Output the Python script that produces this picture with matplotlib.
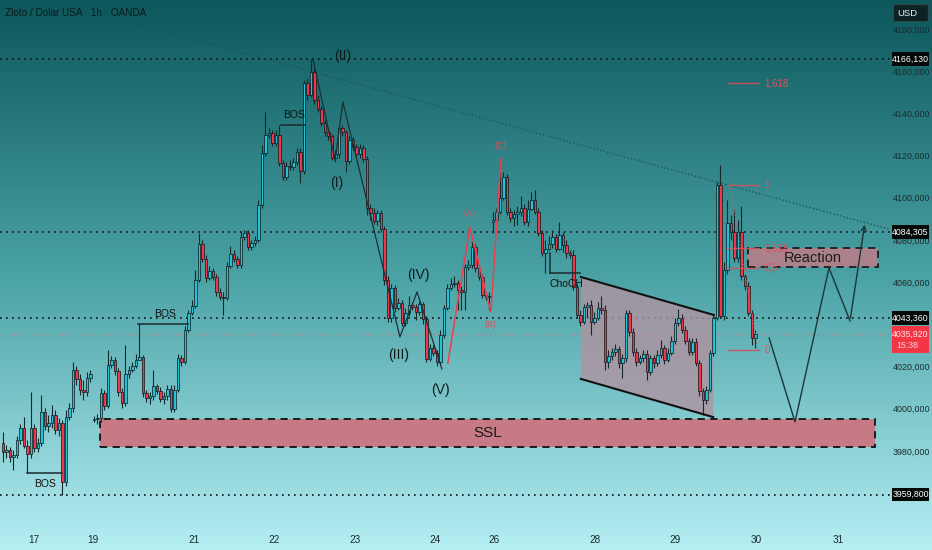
import numpy as np
import matplotlib
matplotlib.use("Agg")
import matplotlib.pyplot as plt
from matplotlib.colors import LinearSegmentedColormap
from matplotlib.patches import Rectangle, Polygon, FancyBboxPatch

plt.rcParams['font.family'] = ['Liberation Sans', 'DejaVu Sans']

# ---- candle data (1h, XAU/USD) ----
closes = [
    3980.0, 3980.9, 3977.6, 3978.5, 3985.6, 3991.3, 3982.8, 3979.0, 3991.3, 3981.8,
    3984.2, 3998.9, 3992.3, 3993.7, 3997.5, 3990.4, 3993.7, 3965.7, 3996.5, 4000.8,
    4018.8, 4014.6, 4009.3, 4008.4, 4015.0, 4016.9, 3995.6, 3996.1, 4007.9, 4001.8,
    4021.2, 4023.6, 4018.3, 4008.4, 4003.2, 4016.9, 4018.8, 4020.7, 4023.6, 4025.0,
    4007.9, 4005.5, 4006.5, 4011.2, 4008.9, 4005.1, 4006.5, 4009.8, 4000.3, 4009.3,
    4024.5, 4022.6, 4037.8, 4045.8, 4049.2, 4061.5, 4078.5, 4071.4, 4062.4, 4065.7,
    4062.9, 4055.8, 4053.4, 4052.9, 4068.1, 4073.8, 4071.4, 4068.6, 4081.9, 4083.8,
    4077.1, 4079.0, 4080.4, 4097.0, 4121.7, 4130.0, 4131.0, 4126.4, 4130.0, 4117.0,
    4110.3, 4115.5, 4115.0, 4117.4, 4122.0, 4113.0, 4155.0, 4149.0, 4160.0, 4147.0,
    4142.5, 4136.0, 4131.6, 4129.7, 4119.3, 4121.2, 4133.5, 4131.6, 4117.9, 4127.8,
    4124.5, 4121.2, 4124.0, 4118.8, 4095.6, 4093.2,
    4089.4, 4093.2, 4085.7, 4061.5, 4043.5, 4057.7, 4048.2, 4050.6, 4041.1, 4045.8, 4049.6,
    4048.7, 4046.3, 4050.1, 4043.0, 4024.0, 4029.2, 4026.9, 4022.6, 4035.4, 4048.2, 4057.7, 4059.6,
    4060.0, 4056.7, 4055.8, 4067.6, 4068.6, 4077.1, 4067.2, 4062.9, 4054.4, 4053.4, 4053.9,
    4089.9, 4093.7, 4100.3, 4110.3, 4093.7, 4090.9, 4092.8, 4093.7, 4095.6, 4089.0, 4095.1,
    4099.4, 4093.7, 4083.8, 4074.3, 4076.2, 4078.5, 4081.9, 4076.2,
    4082.8, 4078.0, 4074.3, 4073.3,
    4058.2, 4044.9, 4041.6, 4048.7, 4049.6, 4041.6, 4043.5, 4048.2, 4047.3,
    4022.6, 4025.5, 4027.4, 4028.8, 4022.1, 4024.5, 4045.8, 4036.8, 4027.4, 4022.6, 4024.5, 4026.4,
    4017.9, 4024.5, 4022.1, 4025.9, 4029.2, 4023.6, 4026.9, 4032.6, 4041.1, 4043.5,
    4037.8, 4032.6, 4027.4, 4032.1, 4022.1, 4008.9, 4004.6, 4009.3, 4026.9, 4043.5,
    4106.5, 4044.4, 4066.2, 4088.5, 4084.2, 4071.9, 4084.2, 4063.4, 4058.6, 4045.8,
    4034.0, 4035.92,
]
highs = [
    3989.4, 3983.3, 3982.3, 3980.9, 3987.5, 3993.2, 3996.5, 3985.6, 4008.4, 3993.2,
    3986.6, 4007.0, 4000.8, 3997.5, 4002.2, 3999.9, 3996.1, 3995.1, 3999.9, 4003.2,
    4022.6, 4020.7, 4016.9, 4014.1, 4017.9, 4018.8, 3997.0, 3998.0, 4010.3, 4009.3,
    4028.3, 4025.5, 4025.0, 4019.8, 4010.3, 4030.7, 4020.7, 4022.6, 4026.4, 4040.6,
    4025.9, 4009.3, 4008.4, 4018.8, 4012.2, 4010.8, 4008.4, 4011.7, 4011.7, 4011.7,
    4026.4, 4025.9, 4039.7, 4047.3, 4052.0, 4066.2, 4083.8, 4080.4, 4073.3, 4068.1,
    4067.2, 4064.3, 4057.7, 4055.8, 4070.0, 4077.6, 4075.7, 4072.9, 4084.2, 4085.2,
    4085.2, 4080.4, 4082.3, 4099.4, 4125.5, 4141.0, 4133.5, 4132.6, 4132.6, 4135.0,
    4118.4, 4117.4, 4118.4, 4119.3, 4124.0, 4124.0, 4156.3, 4157.0, 4166.13, 4162.0,
    4149.0, 4144.0, 4137.3, 4133.5, 4130.7, 4123.0, 4135.0, 4135.0, 4132.6, 4129.7,
    4129.3, 4126.0, 4126.0, 4125.5, 4120.3, 4097.5,
    4095.6, 4094.7, 4094.7, 4087.0, 4063.4, 4059.6, 4059.1, 4052.9, 4052.0, 4048.2, 4053.9,
    4051.1, 4050.1, 4051.5, 4051.1, 4044.4, 4031.1, 4030.7, 4028.3, 4037.8, 4049.6, 4059.6, 4062.4,
    4063.4, 4061.5, 4058.6, 4069.0, 4071.0, 4079.5, 4078.5, 4068.6, 4064.3, 4055.8, 4055.8,
    4093.7, 4095.6, 4118.4, 4112.7, 4111.7, 4095.6, 4094.7, 4096.6, 4101.3, 4097.5, 4099.4,
    4103.0, 4104.0, 4095.6, 4085.2, 4080.4, 4082.3, 4085.2, 4083.3,
    4089.0, 4084.2, 4080.4, 4075.7,
    4075.7, 4059.6, 4047.3, 4050.1, 4051.1, 4052.0, 4046.3, 4051.1, 4053.9,
    4049.6, 4028.3, 4029.2, 4031.1, 4030.2, 4026.4, 4047.3, 4047.3, 4038.7, 4029.2, 4025.9, 4028.3,
    4028.3, 4025.9, 4025.9, 4028.3, 4033.0, 4030.7, 4029.2, 4034.9, 4043.5, 4047.7,
    4045.4, 4039.7, 4034.0, 4034.0, 4034.0, 4023.6, 4010.3, 4011.2, 4028.3, 4045.4,
    4108.0, 4116.0, 4070.0, 4099.4, 4092.3, 4094.7, 4089.9, 4096.6, 4064.3, 4060.5,
    4047.3, 4037.8,
]
lows = [
    3975.2, 3977.1, 3975.2, 3971.4, 3977.1, 3983.7, 3981.8, 3970.0, 3977.1, 3980.0,
    3980.0, 3982.8, 3990.4, 3989.4, 3991.3, 3988.5, 3987.5, 3959.8, 3963.8, 3995.1,
    3998.9, 4011.7, 4007.0, 4004.6, 4006.5, 4013.1, 3994.2, 3993.2, 3994.2, 3999.9,
    4000.8, 4019.8, 4016.4, 4006.5, 4000.8, 4001.8, 4015.0, 4017.9, 4019.8, 4023.6,
    4006.0, 4003.7, 4002.7, 4004.6, 4007.4, 4003.7, 4002.7, 4004.6, 3998.9, 3998.9,
    4008.4, 4020.7, 4021.7, 4036.8, 4044.9, 4048.2, 4060.5, 4070.0, 4060.5, 4061.5,
    4061.5, 4053.9, 4052.0, 4044.9, 4052.0, 4067.2, 4070.0, 4067.2, 4067.2, 4080.4,
    4075.7, 4075.7, 4077.6, 4079.5, 4095.6, 4120.3, 4128.8, 4125.0, 4125.0, 4115.5,
    4109.0, 4109.0, 4113.6, 4113.6, 4116.0, 4107.5, 4111.7, 4147.0, 4148.0, 4145.0,
    4141.0, 4134.5, 4129.7, 4127.8, 4118.4, 4117.4, 4119.3, 4129.7, 4112.7, 4116.5,
    4123.0, 4119.3, 4119.3, 4117.4, 4092.3, 4089.9,
    4088.0, 4087.5, 4084.2, 4059.1, 4041.6, 4041.6, 4046.3, 4047.3, 4039.7, 4039.7, 4044.4,
    4047.3, 4042.5, 4044.9, 4040.6, 4022.6, 4023.1, 4025.5, 4020.7, 4021.7, 4034.0, 4047.3, 4056.7,
    4058.2, 4047.3, 4047.3, 4047.3, 4066.2, 4067.2, 4065.3, 4061.5, 4052.9, 4052.0, 4047.3,
    4083.8, 4088.0, 4092.8, 4099.4, 4092.3, 4089.0, 4087.0, 4087.5, 4091.8, 4087.5, 4087.0,
    4094.7, 4092.8, 4082.3, 4072.9, 4064.8, 4075.7, 4076.6, 4074.8,
    4075.7, 4074.8, 4071.9, 4071.9,
    4056.7, 4043.5, 4039.7, 4040.6, 4043.5, 4035.4, 4040.6, 4042.5, 4045.4,
    4018.8, 4019.8, 4023.6, 4025.5, 4019.8, 4015.0, 4022.6, 4034.9, 4025.5, 4020.7, 4021.7, 4022.6,
    4014.1, 4016.4, 4019.8, 4020.7, 4024.5, 4021.7, 4022.6, 4025.9, 4031.1, 4039.7,
    4036.4, 4031.1, 4025.9, 4025.9, 4020.7, 4006.5, 3997.5, 4002.7, 4008.4, 4025.5,
    4042.5, 4043.5, 4042.5, 4064.3, 4080.4, 4070.0, 4070.0, 4061.5, 4056.7, 4044.4,
    4030.7, 4029.2,
]
first_open = 3984.2
session_opens = {26: 3995.1, 140: 4089.0}   # weekend gaps

day_pos = [8.9, 25.7, 54.6, 77.4, 100.6, 123.4, 140.3, 169.1, 192.0, 215.1, 238.6]
day_labels = ['17', '19', '21', '22', '23', '24', '26', '28', '29', '30', '31']
price_ticks = [3980, 4000, 4020, 4060, 4080, 4100, 4120, 4140, 4160, 4180]  # 4040 hidden by labels
levels = [4166.13, 4084.305, 4043.36, 3959.8]
last_price = 4035.92
countdown = "15:38"

ssl_zone = [3982.3, 3995.6]
reaction_zone = [4067.6, 4076.6]
fib_low, fib_high = 4028.3, 4106.5
fib_ratios = [0, 0.5, 0.618, 1, 1.618]
fib_names = ['0', '0,5', '0,618', '1', '1,618']

# drawings (bar index, price)
trend_x, trend_y = [13.4, 253.4], [4194.2, 4085.5]
wave_x = [88.6, 94.9, 97.1, 113.4, 118.3, 125.4]
wave_y = [4165.8, 4118.4, 4145.9, 4034.5, 4055.8, 4019.3]
wave_lbl = [('(II)', 97.1, 4167.5), ('(I)', 95.4, 4107.5), ('(III)', 113.1, 4025.9),
            ('(IV)', 118.6, 4063.9), ('(V)', 125.1, 4009.3)]
abc_x = [127.1, 133.4, 139.4, 142.3]
abc_y = [4022.1, 4086.6, 4046.3, 4119.3]
abc_lbl = [('(A)', 133.4, 4093.2), ('(B)', 139.4, 4040.2), ('(C)', 142.3, 4125.0)]
chan_x = [165.1, 203.1, 202.9, 165.1]
chan_y = [4062.9, 4044.9, 3996.5, 4014.6]
path_x = [218.9, 226.3, 236.0, 242.0, 246.3]
path_y = [4034.0, 3994.2, 4067.2, 4042.1, 4089.0]

closes = np.array(closes)
highs = np.array(highs)
lows = np.array(lows)
opens = np.r_[first_open, closes[:-1]]
for k, v in session_opens.items():
    opens[k] = v
n = len(closes)
idx = np.arange(n)

X0, X1 = -0.857, 265.43
Y0, Y1 = 3933.5, 4194.2

fig = plt.figure(figsize=(9.32, 5.5), dpi=100)
ax = fig.add_axes([0, 0, 1, 1])
ax.set_xlim(X0, X1)
ax.set_ylim(Y0, Y1)
ax.axis('off')

cmap = LinearSegmentedColormap.from_list('bg', ['#0c585c', '#4aa2a5', '#b4eef3'])
grad = np.linspace(0, 1, 300).reshape(-1, 1)
ax.imshow(grad, cmap=cmap, extent=[X0, X1, Y0, Y1], aspect='auto', origin='upper', zorder=0)

# level lines
line_end = 253.4
for lv in levels:
    ax.plot([X0, line_end], [lv, lv], color='#0b1416', lw=1.2, ls=(0, (1, 2.6)), zorder=2)
ax.plot([X0, line_end], [last_price, last_price], color='#e0606a', lw=0.9,
        ls=(0, (1, 2.5)), alpha=0.8, zorder=2)
ax.plot(trend_x, trend_y, color='#1d4d52', lw=0.9, ls=(0, (1, 1.8)), zorder=2)

# zones
ax.add_patch(Rectangle((27.7, ssl_zone[0]), 249.1 - 27.7, ssl_zone[1] - ssl_zone[0],
                       facecolor='#c77a85', edgecolor='#111111', lw=1.3, ls=(0, (4, 3)), zorder=2))
ax.text(138.4, sum(ssl_zone) / 2, 'SSL', ha='center', va='center', fontsize=11, color='#1a1a1a', zorder=6)
ax.add_patch(Rectangle((212.9, reaction_zone[0]), 250.0 - 212.9, reaction_zone[1] - reaction_zone[0],
                       facecolor='#b77f8a', edgecolor='#111111', lw=1.3, ls=(0, (4, 3)),
                       alpha=0.9, zorder=2))
ax.text(231.5, sum(reaction_zone) / 2, 'Reaction', ha='center', va='center', fontsize=10.5,
        color='#1a1a1a', zorder=6)
ax.add_patch(Polygon(list(zip(chan_x, chan_y)), closed=True, facecolor='#b093a0', alpha=0.8,
                     edgecolor='none', zorder=2))
ax.plot(chan_x[:2], chan_y[:2], color='#111111', lw=1.5, zorder=4)
ax.plot(chan_x[2:], chan_y[2:], color='#111111', lw=1.5, zorder=4)

# candles
up = closes >= opens
ax.vlines(idx, lows, highs, color='#15292c', lw=0.8, zorder=3)
body_lo = np.minimum(opens, closes)
body_h = np.maximum(np.abs(closes - opens), 0.35)
ax.bar(idx[up], body_h[up], bottom=body_lo[up], width=0.72, color='#22c3d6',
       edgecolor='#0a1719', lw=0.5, zorder=3.5)
ax.bar(idx[~up], body_h[~up], bottom=body_lo[~up], width=0.72, color='#f2364a',
       edgecolor='#0a1719', lw=0.5, zorder=3.5)

# BOS / ChoCH
struct = [((6.9, 16.9), 3970.0, 'BOS', 12.0, 3964.8),
          ((38.6, 52.9), 4040.6, 'BOS', 46.3, 4045.4),
          ((79.4, 86.3), 4135.0, 'BOS', 83.1, 4139.6),
          ((156.3, 164.9), 4064.8, 'ChoCH', 160.9, 4059.8)]
for (xa, xb), lv, name, tx, ty in struct:
    ax.plot([xa, xb], [lv, lv], color='#1b2a2c', lw=1.1, zorder=4)
    ax.text(tx, ty, name, ha='center', va='center', fontsize=7.5, color='#111111', zorder=6)
ax.plot([156.3, 156.3], [4064.8, 4074.3], color='#1b2a2c', lw=1.1, zorder=4)

# Elliott waves
ax.plot(wave_x, wave_y, color='#1e2f31', lw=0.9, zorder=4)
for t, x, y in wave_lbl:
    ax.text(x, y, t, ha='center', va='center', fontsize=10, color='#111a1b', zorder=6)
ax.plot(abc_x, abc_y, color='#f03e4e', lw=1.1, zorder=4)
for t, x, y in abc_lbl:
    ax.text(x, y, t, ha='center', va='center', fontsize=6.5, color='#e0505c', zorder=6)

# fibonacci
ax.plot([207.7, 215.7], [fib_high, fib_low], color='#d85a64', lw=0.8, ls=(0, (1, 2)), zorder=4)
for r, name in zip(fib_ratios, fib_names):
    lv = fib_low + r * (fib_high - fib_low)
    ax.plot([207.1, 216.0], [lv, lv], color='#d8505c', lw=1.0, alpha=0.9, zorder=4)
    ax.text(217.6, lv, name, ha='left', va='center', fontsize=7, color='#e0505c', zorder=6)

# projection path
ax.plot(path_x[:-1], path_y[:-1], color='#1c3538', lw=1.0, zorder=4)
ax.annotate('', xy=(path_x[-1], path_y[-1]), xytext=(path_x[-2], path_y[-2]),
            arrowprops=dict(arrowstyle='->', color='#1c3538', lw=1.0, mutation_scale=9), zorder=4)

# price scale
for p in price_ticks:
    ax.text(259.6, p, f"{p},000", ha='center', va='center', fontsize=6.4, color='#1c2a2c', zorder=6)
for lv in levels:
    ax.add_patch(Rectangle((254.0, lv - 3.3), 10.6, 6.6, facecolor='#050808', edgecolor='none', zorder=7))
    ax.text(259.3, lv, f"{lv:.3f}".replace('.', ','), ha='center', va='center',
            fontsize=6.3, color='white', zorder=8)
ax.add_patch(Rectangle((254.0, 4026.9), 10.6, 12.8, facecolor='#f23645', edgecolor='none', zorder=7))
ax.text(259.3, last_price, f"{last_price:.3f}".replace('.', ','), ha='center', va='center',
        fontsize=6.3, color='#ffe6e8', zorder=8)
ax.text(255.2, 4030.6, countdown, ha='left', va='center', fontsize=6.3, color='#ffd0d4', zorder=8)
ax.add_patch(FancyBboxPatch((254.4, 4184.0), 10.0, 8.0, boxstyle='round,pad=0,rounding_size=0.6',
                            facecolor='#0d2224', edgecolor='#2f4a4c', lw=0.8, zorder=7,
                            mutation_aspect=0.5))
ax.text(255.5, 4188.0, 'USD', ha='left', va='center', fontsize=6.8, color='#e8f0f0', zorder=8)

# time scale
for x, lab in zip(day_pos, day_labels):
    ax.text(x, 3938.2, lab, ha='center', va='center', fontsize=7.2, color='#1c2a2c', zorder=6)

ax.text(0.6, 4188.0, 'Zloto / Dolar USA · 1h · OANDA', ha='left', va='center', fontsize=7.2,
        color='#0c1a1b', zorder=6)

fig.savefig('out.png', dpi=100)
